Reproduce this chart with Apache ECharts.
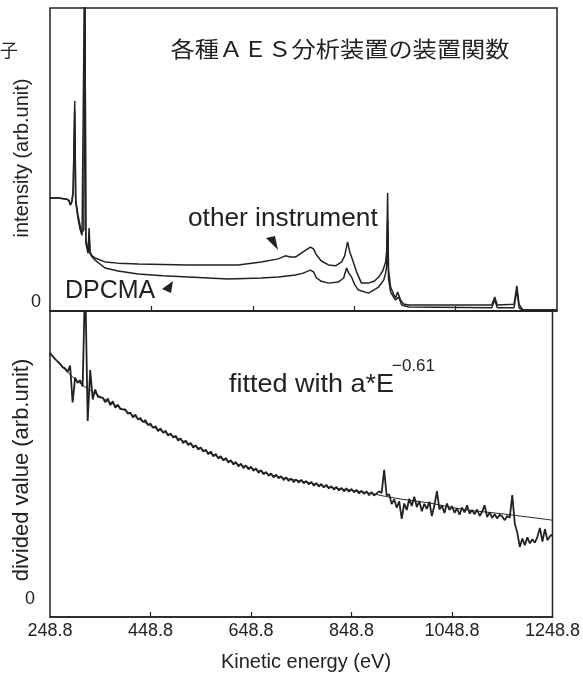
<!DOCTYPE html>
<html>
<head>
<meta charset="utf-8">
<script src="https://cdn.jsdelivr.net/npm/echarts@6/dist/echarts.min.js"></script>
<style>
    html, body { margin: 0; padding: 0; background: #fff; }
    #chart { width: 583px; height: 675px; }
</style>
</head>
<body>
<div id="chart"></div>
<script>
// x axis (kinetic energy, eV)
var xTicks = [248.8, 448.8, 648.8, 848.8, 1048.8, 1248.8];

// upper panel: instrument functions
var otherE = [248.8, 264.6, 280.4, 286, 289, 292, 294.5, 297.6, 299.5, 304, 308, 312, 315.5, 317.4, 319.5, 323.9, 325.9, 327.8, 331.8, 337.7,
    357.5, 383, 422.7, 521.5, 620, 665.7, 699, 713, 723, 733, 748, 762.6, 768.5, 774.4, 784, 798, 812, 824, 830, 835.7,
    840, 843.6, 849.5, 853.5, 863, 877, 889, 897, 905, 910.8, 913, 914.7, 916.5, 920.6, 926.5, 930.5, 934.4, 936.4, 940.4, 946.3,
    956.2, 1120, 1126, 1131, 1164, 1169.6, 1174, 1181.5, 1248.8];
var otherV = [37.3, 37.3, 37.0, 36.5, 35.0, 36.2, 40.0, 69.3, 36.6, 31.7, 28.4, 26.0, 26.7, 120, 23.4, 19.5, 27.4, 19.5, 18.2, 17.5,
    16.2, 15.8, 15.5, 15.2, 15.2, 16.2, 17.2, 18.2, 17.8, 17.8, 19.5, 21.1, 20.5, 18.5, 16.5, 15.2, 14.9, 16.2, 18.2, 22.8,
    19.5, 17.8, 14.9, 12.9, 9.2, 9.2, 9.9, 11.2, 13.2, 16.2, 20.0, 38.9, 13.5, 7.9, 5.6, 4.3, 6.3, 6.9, 3.6, 2.3,
    2.0, 2.0, 4.6, 2.0, 2.2, 8.3, 2.2, 0.3, 0.3];

var dpcmaE = [248.8, 264.6, 280.4, 286, 289, 292, 294.5, 297.6, 299.5, 304, 308, 312, 315.5, 317.4, 319.5, 323.9, 325.9, 327.8, 331.8, 337.7,
    357.5, 383, 422.7, 472, 521.5, 600, 665.7, 699, 733, 748, 762.6, 768.5, 774.4, 784, 798, 818, 828, 833.7, 838, 843.6,
    850, 857, 877, 897, 907, 910.8, 913, 914.7, 916.5, 920.6, 926.5, 930.5, 936.4, 942.4, 956.2, 1120, 1126, 1131, 1164, 1169.6,
    1174, 1181.5, 1248.8];
var dpcmaV = [37.3, 37.3, 37.0, 36.5, 35.0, 36.0, 39.0, 66.0, 36.0, 30.5, 27.0, 25.0, 25.5, 120, 22.5, 19.0, 25.0, 19.0, 17.8, 16.8,
    14.2, 13.2, 12.2, 11.6, 11.2, 10.6, 10.9, 11.2, 11.9, 12.5, 13.5, 12.9, 10.9, 9.8, 9.2, 9.6, 10.9, 14.2, 12.5, 11.2,
    8.6, 6.9, 5.9, 7.9, 10.2, 12.5, 15.0, 30.0, 10.5, 6.3, 4.6, 3.6, 4.6, 2.0, 1.3, 1.1, 3.6, 1.1, 1.1, 6.9,
    1.0, 0.3, 0.3];

var dividedStart = 248.8;
var dividedStep = 5;
var dividedV = [
    85.9, 84.8, 83.9, 83.0, 82.3, 81.1, 80.7, 79.5, 81.6, 69.2,
    77.6, 75.8, 76.7, 74.6, 112, 63.0, 80.1, 70.2, 73.6, 71.2,
    70.9, 70.8, 69.3, 70.5, 68.3, 69.6, 67.5, 68.5, 67.0, 66.9,
    66.9, 65.4, 65.8, 64.2, 65.1, 63.5, 64.0, 62.6, 63.3, 61.6,
    62.1, 60.7, 61.2, 59.6, 60.5, 59.0, 59.7, 58.1, 58.8, 57.4,
    58.0, 56.4, 57.1, 55.5, 56.4, 54.9, 55.6, 54.0, 54.8, 53.4,
    54.1, 52.7, 53.3, 51.8, 52.7, 51.1, 51.9, 50.3, 51.1, 49.7,
    50.5, 49.0, 49.8, 48.3, 49.2, 47.7, 48.6, 47.1, 48.0, 46.7,
    47.6, 46.2, 47.0, 45.5, 46.4, 45.0, 45.8, 44.5, 45.3, 44.0,
    44.9, 43.7, 44.4, 43.1, 44.0, 42.8, 43.6, 42.4, 43.3, 42.2,
    43.2, 42.0, 42.8, 41.6, 42.5, 41.2, 42.1, 40.9, 41.8, 40.6,
    41.5, 40.3, 41.0, 39.9, 40.8, 39.6, 40.5, 39.3, 40.3, 39.2,
    40.1, 39.0, 39.8, 38.6, 39.5, 38.4, 39.3, 38.0, 39.1, 37.9,
    38.6, 39.3, 38.7, 46.5, 37.9, 38.3, 35.0, 36.6, 33.8, 35.9,
    30.0, 35.2, 33.0, 36.8, 34.4, 37.5, 34.0, 36.0, 32.6, 35.1,
    33.4, 35.8, 31.0, 34.6, 39.4, 33.2, 34.5, 32.0, 35.2, 33.0,
    34.3, 32.1, 33.6, 31.4, 33.8, 32.2, 34.6, 31.8, 33.0, 31.6,
    33.2, 31.0, 32.4, 34.6, 30.6, 32.2, 30.4, 31.6, 30.2, 31.4,
    30.8, 29.6, 31.0, 30.4, 38.0, 28.5, 25.4, 20.6, 23.4, 21.2,
    23.8, 21.8, 23.2, 22.0, 24.0, 27.0, 22.4, 26.6, 22.8, 24.2,
    24.8
];
var fitE = [248.8, 294, 344, 403, 442, 502, 541, 600, 660, 699, 759, 804, 871, 936, 1002, 1069, 1134, 1170, 1248.8];
var fitV = [85.9, 77.8, 71.7, 66.0, 62.0, 57.2, 54.2, 49.8, 46.5, 44.4, 42.4, 40.7, 39.1, 37.0, 35.4, 33.3, 32.0, 31.3, 29.6];

function pairs(xs, ys) {
    return xs.map(function (x, i) { return [x, ys[i]]; });
}

var ink = '#222';
var latin = '"Liberation Sans", Arial, sans-serif';

var chart = echarts.init(document.getElementById('chart'));

function xAxisFor(gridIndex, showLabels) {
    return {
        type: 'value',
        gridIndex: gridIndex,
        min: 248.8,
        max: 1248.8,
        axisLine: { show: true, onZero: false, lineStyle: { color: ink, width: 1.5 } },
        axisTick: { show: true, inside: true, length: 5, customValues: xTicks.slice(1, 5), lineStyle: { color: ink, width: 1.2 } },
        axisLabel: {
            show: showLabels,
            customValues: xTicks,
            formatter: function (v) { return v.toFixed(1); },
            color: ink,
            fontFamily: latin,
            fontSize: 18,
            margin: 5
        },
        splitLine: { show: false }
    };
}

function yAxisFor(gridIndex, min, margin) {
    return {
        type: 'value',
        gridIndex: gridIndex,
        min: min,
        max: 100,
        axisLine: { show: false },
        axisTick: { show: false },
        axisLabel: {
            customValues: [0],
            color: ink,
            fontFamily: latin,
            fontSize: 18,
            margin: margin,
            verticalAlign: 'bottom'
        },
        splitLine: { show: false }
    };
}

var gridStyle = { show: true, borderColor: ink, borderWidth: 1.5, backgroundColor: 'transparent' };

var option = {
    animation: false,
    backgroundColor: '#fff',
    grid: [
        Object.assign({ left: 50, top: 8, width: 507, height: 303 }, gridStyle),
        Object.assign({ left: 50, top: 311, width: 507, height: 306 }, gridStyle)
    ],
    xAxis: [xAxisFor(0, false), xAxisFor(1, true)],
    yAxis: [yAxisFor(0, 0, 9), yAxisFor(1, -3, 15)],
    series: [
        {
            name: 'other instrument', type: 'line', xAxisIndex: 0, yAxisIndex: 0,
            data: pairs(otherE, otherV), showSymbol: false,
            lineStyle: { color: ink, width: 1.5 }
        },
        {
            name: 'DPCMA', type: 'line', xAxisIndex: 0, yAxisIndex: 0,
            data: pairs(dpcmaE, dpcmaV), showSymbol: false,
            lineStyle: { color: ink, width: 1.5 }
        },
        {
            name: 'divided', type: 'line', xAxisIndex: 1, yAxisIndex: 1,
            data: dividedV.map(function (v, i) { return [dividedStart + i * dividedStep, v]; }),
            showSymbol: false,
            lineStyle: { color: ink, width: 1.8 }
        },
        {
            name: 'fit', type: 'line', xAxisIndex: 1, yAxisIndex: 1,
            data: pairs(fitE, fitV), showSymbol: false, smooth: true,
            lineStyle: { color: ink, width: 1 }
        }
    ],
    graphic: [
        { type: 'text', x: 340, y: 49, scaleX: 1.1, style: { text: '各種ＡＥＳ分析装置の装置関数', fontSize: 22, fontFamily: '"Noto Sans CJK JP"', fill: ink, align: 'center', verticalAlign: 'middle' } },
        { type: 'text', x: 9, y: 50, style: { text: '子', fontSize: 18, fontFamily: '"Noto Sans CJK JP"', fill: ink, align: 'center', verticalAlign: 'middle' } },
        { type: 'text', x: 22, y: 158, rotation: Math.PI / 2, style: { text: 'intensity (arb.unit)', fontSize: 20, fontFamily: latin, fill: ink, align: 'center', verticalAlign: 'middle' } },
        { type: 'text', x: 22, y: 470, rotation: Math.PI / 2, style: { text: 'divided value (arb.unit)', fontSize: 22, fontFamily: latin, fill: ink, align: 'center', verticalAlign: 'middle' } },
        { type: 'text', x: 306, y: 662, style: { text: 'Kinetic energy (eV)', fontSize: 20, fontFamily: latin, fill: ink, align: 'center', verticalAlign: 'middle' } },
        { type: 'text', x: 188, y: 219, scaleX: 1.05, style: { text: 'other instrument', fontSize: 25, fontFamily: latin, fill: ink, align: 'left', verticalAlign: 'middle' } },
        { type: 'polygon', shape: { points: [[266, 238], [275, 236], [278, 250]] }, style: { fill: ink } },
        { type: 'text', x: 65, y: 291, style: { text: 'DPCMA', fontSize: 25, fontFamily: latin, fill: ink, align: 'left', verticalAlign: 'middle' } },
        { type: 'polygon', shape: { points: [[162, 289], [173, 281], [171, 293]] }, style: { fill: ink } },
        { type: 'text', x: 229, y: 385, scaleX: 1.08, style: { text: 'fitted with a*E', fontSize: 25, fontFamily: latin, fill: ink, align: 'left', verticalAlign: 'middle' } },
        { type: 'text', x: 392, y: 366, style: { text: '−0.61', fontSize: 17, fontFamily: latin, fill: ink, align: 'left', verticalAlign: 'middle' } }
    ]
};

chart.setOption(option);
</script>
</body>
</html>
